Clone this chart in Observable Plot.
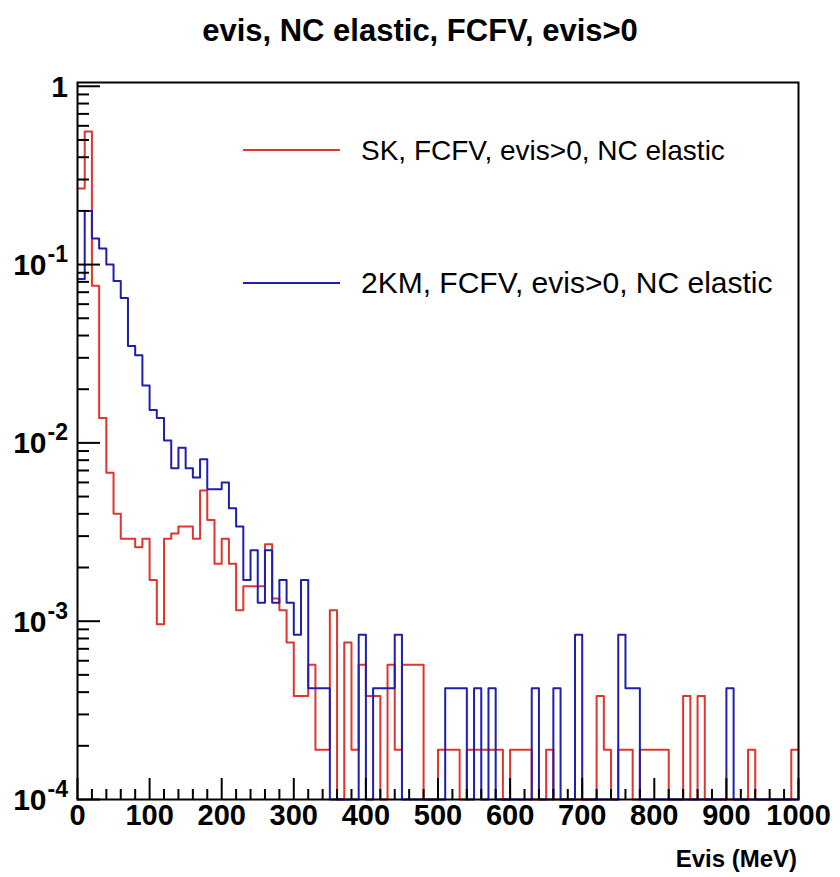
<!DOCTYPE html>
<html><head><meta charset="utf-8">
<script src="https://cdn.jsdelivr.net/npm/d3@7"></script>
<script src="https://cdn.jsdelivr.net/npm/@observablehq/plot@0.6"></script>
<style>
body{margin:0;background:#fff}
#chart{width:840px;height:877px}
</style>
</head><body><div id="chart"></div>
<script>
const titleText = "evis, NC elastic, FCFV, evis>0";
const xTitle = "Evis (MeV)";
const seriesNames = ["SK, FCFV, evis>0, NC elastic", "2KM, FCFV, evis>0, NC elastic"];
const seriesColors = ["#e0342c", "#1e1eb0"];
const binStarts = d3.range(0, 1000, 10);
const binEnd = 1000;

const skValues = [
 0.267, 0.558, 0.0762, 0.0138, 0.0068, 0.0040, 0.0029, 0.0029, 0.0026, 0.0029,
 0.0017, 0.00096, 0.0029, 0.0031, 0.0034, 0.0034, 0.0029, 0.0054, 0.0037, 0.0021,
 0.0029, 0.0021, 0.00115, 0.00157, 0.00157, 0.00157, 0.0027, 0.00134, 0.00115, 0.00076,
 0.00038, 0.00038, 0.00057, 0.00019, 0.00019, 0.00115, 0, 0.00076, 0.00019, 0.00057,
 0.00038, 0.00038, 0, 0.00057, 0.00019, 0.00057, 0.00057, 0.00057, 0, 0,
 0.00019, 0.00019, 0.00019, 0, 0.00019, 0.00019, 0.00019, 0.00019, 0.00019, 0,
 0.00019, 0.00019, 0.00019, 0, 0, 0.00019, 0, 0, 0, 0,
 0, 0, 0.00038, 0.00019, 0, 0.00019, 0.00019, 0, 0.00019, 0.00019,
 0.00019, 0.00019, 0, 0, 0.00038, 0, 0.00038, 0, 0, 0,
 0, 0, 0, 0.00019, 0, 0, 0, 0, 0, 0.00019
];
const kmValues = [
 0.083, 0.20, 0.14, 0.123, 0.100, 0.081, 0.065, 0.035, 0.031, 0.021,
 0.0153, 0.0138, 0.0103, 0.0072, 0.0094, 0.0072, 0.0064, 0.0081, 0.0055, 0.0055,
 0.0060, 0.0043, 0.0034, 0.0017, 0.0025, 0.00127, 0.0025, 0.00127, 0.0017, 0.00127,
 0.00084, 0.0017, 0.00042, 0.00042, 0.00042, 0, 0, 0, 0, 0.00084,
 0, 0.00042, 0.00042, 0.00042, 0.00084, 0, 0, 0, 0, 0,
 0, 0.00042, 0.00042, 0.00042, 0, 0.00042, 0, 0.00042, 0, 0,
 0, 0, 0, 0.00042, 0, 0, 0.00042, 0, 0, 0.00084,
 0, 0, 0, 0, 0, 0.00084, 0.00042, 0.00042, 0, 0,
 0, 0, 0, 0, 0, 0, 0, 0, 0, 0,
 0.00042, 0, 0, 0, 0, 0, 0, 0, 0, 0
];

const xTickValues = [0,100,200,300,400,500,600,700,800,900,1000];
const xTickLabels = ["0","100","200","300","400","500","600","700","800","900","1000"];
const xMinorTicks = d3.range(0, 1001, 20).filter(v => v % 100 !== 0);
const yDecades = [1e-4, 1e-3, 1e-2, 1e-1, 1];
const yDecadeLabels = [["10","-4"],["10","-3"],["10","-2"],["10","-1"],["1",""]];
const yMinorTicks = [];
for (const d of [1e-4,1e-3,1e-2,1e-1]) for (let m = 2; m <= 9; m++) yMinorTicks.push(m*d);

const yMin = 1e-4, yMax = 1.05;
const W = 840, H = 877, mL = 77, mR = 42, mT = 82, mB = 78;
const frameW = W - mL - mR, frameH = H - mT - mB;
const FONT = "'Liberation Sans', Arial, Helvetica, sans-serif";

function steps(vals, name) {
  const pts = binStarts.map((x, i) => ({x, y: vals[i] > yMin ? vals[i] : yMin, series: name}));
  pts.push({x: binEnd, y: pts[pts.length - 1].y, series: name});
  return pts;
}
const skSteps = steps(skValues, seriesNames[0]);
const kmSteps = steps(kmValues, seriesNames[1]);

const plot = Plot.plot({
  width: W, height: H,
  marginLeft: mL, marginRight: mR, marginTop: mT, marginBottom: mB,
  style: {background: "white", fontFamily: FONT},
  x: {domain: [0, 1000], axis: null},
  y: {type: "log", domain: [yMin, yMax], axis: null},
  marks: [
    Plot.line(skSteps, {x: "x", y: "y", curve: "step-after", stroke: seriesColors[0], strokeWidth: 2}),
    Plot.line(kmSteps, {x: "x", y: "y", curve: "step-after", stroke: seriesColors[1], strokeWidth: 2}),
    Plot.ruleY(yDecades, {insetRight: frameW - 23, stroke: "black", strokeWidth: 2}),
    Plot.ruleY(yMinorTicks, {insetRight: frameW - 12, stroke: "black", strokeWidth: 2}),
    Plot.ruleX(xTickValues, {insetTop: frameH - 21, stroke: "black", strokeWidth: 2}),
    Plot.ruleX(xMinorTicks, {insetTop: frameH - 10, stroke: "black", strokeWidth: 2}),
    Plot.frame({stroke: "black", strokeWidth: 2}),
    Plot.text(xTickValues, {x: d => d, text: (d, i) => xTickLabels[i], frameAnchor: "bottom", lineAnchor: "top", dy: 5, fontSize: 29, fontWeight: "bold", fill: "black"})
  ]
});
document.getElementById("chart").appendChild(plot);

const svg = d3.select(plot);
const ys = plot.scale("y");
yDecades.forEach((v, i) => {
  const [base, exp] = yDecadeLabels[i];
  const y = ys.apply(v);
  const t = svg.append("text").attr("x", 68).attr("y", y + 11)
    .attr("text-anchor", "end").attr("font-family", FONT).attr("font-weight", "bold")
    .attr("font-size", 30).attr("fill", "black");
  t.append("tspan").text(base);
  if (exp) t.append("tspan").attr("dx", 1).attr("dy", -13).attr("font-size", 23).text(exp);
});
svg.append("text").attr("x", 420).attr("y", 41).attr("text-anchor", "middle")
  .attr("font-family", FONT).attr("font-weight", "bold").attr("font-size", 31).attr("fill", "black").text(titleText);
svg.append("text").attr("x", 797).attr("y", 867).attr("text-anchor", "end")
  .attr("font-family", FONT).attr("font-weight", "bold").attr("font-size", 24).attr("fill", "black").text(xTitle);
const legendY = [150, 283];
const legendFontSizes = [28, 30];
seriesNames.forEach((name, i) => {
  svg.append("line").attr("x1", 243).attr("x2", 340).attr("y1", legendY[i]).attr("y2", legendY[i])
    .attr("stroke", seriesColors[i]).attr("stroke-width", 2);
  svg.append("text").attr("x", 361).attr("y", legendY[i] + 10).attr("text-anchor", "start")
    .attr("font-family", FONT).attr("font-size", legendFontSizes[i]).attr("fill", "black").text(name);
});
</script>
</body></html>
